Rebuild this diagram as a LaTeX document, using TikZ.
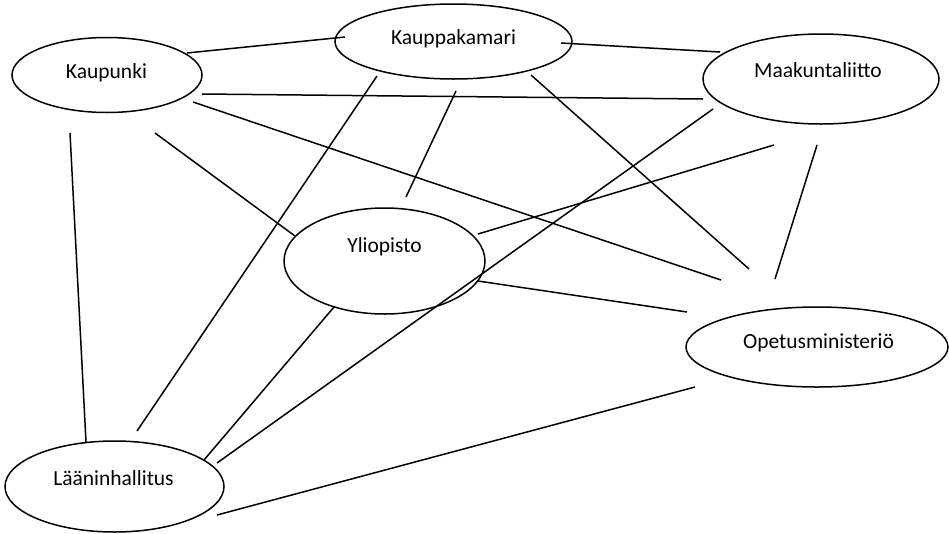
\documentclass[tikz,border=0pt]{standalone}
\usepackage{fontspec}
\setmainfont{Carlito}
\usetikzlibrary{shapes.geometric}
\begin{document}
\begin{tikzpicture}[x=1pt,y=-1pt,
  oval/.style={draw,ellipse,line width=1.5pt,inner sep=0pt,outer sep=0pt},
  lbl/.style={anchor=base,inner sep=0pt,font=\fontsize{21.5}{26}\selectfont},
  link/.style={line width=1.5pt}]
\useasboundingbox (0,0) rectangle (949,533);
% ellipses
\node[oval,minimum width=190pt,minimum height=75pt] (kaup) at (107,75) {};
\node[oval,minimum width=237pt,minimum height=75pt] (kkam) at (453.5,41.5) {};
\node[oval,minimum width=236pt,minimum height=90pt] (maak) at (821,79) {};
\node[oval,minimum width=201pt,minimum height=106pt] (ylio) at (384.5,261) {};
\node[oval,minimum width=262pt,minimum height=80pt] (opet) at (817,347) {};
\node[oval,minimum width=219pt,minimum height=91pt] (laan) at (114.5,486.5) {};
% texts
\node[lbl] (kaupT) at (106.5,78) {Kaupunki};
\node[lbl] (kkamT) at (453.5,44) {Kauppakamari};
\node[lbl] (maakT) at (818,77) {Maakuntaliitto};
\node[lbl] (ylioT) at (384.5,252) {Yliopisto};
\node[lbl] (opetT) at (818.5,348) {Opetusministeriö};
\node[lbl] (laanT) at (113.5,485) {Lääninhallitus};
% connector end points
\coordinate (a1) at (187,53);  \coordinate (b1) at (345,37);
\coordinate (a2) at (561,43);  \coordinate (b2) at (720,52);
\coordinate (a3) at (202,94);  \coordinate (b3) at (703,99);
\coordinate (a4) at (193,102); \coordinate (b4) at (721,280);
\coordinate (a5) at (70,133);  \coordinate (b5) at (86,442);
\coordinate (a6) at (155,133); \coordinate (b6) at (295,236);
\coordinate (a7) at (377,76);  \coordinate (b7) at (137,431);
\coordinate (a8) at (456,91);  \coordinate (b8) at (406,197);
\coordinate (a9) at (531,75);  \coordinate (b9) at (749,269);
\coordinate (a10) at (713,109); \coordinate (b10) at (217,463);
\coordinate (a11) at (774,145); \coordinate (b11) at (478,234);
\coordinate (a12) at (817,145); \coordinate (b12) at (775,279);
\coordinate (a13) at (478,281); \coordinate (b13) at (687,312);
\coordinate (a14) at (334,307); \coordinate (b14) at (204,460);
\coordinate (a15) at (217,515); \coordinate (b15) at (695,387);
% connectors
\foreach \i in {1,...,15} {\draw[link] (a\i) -- (b\i);}
\end{tikzpicture}
\end{document}
